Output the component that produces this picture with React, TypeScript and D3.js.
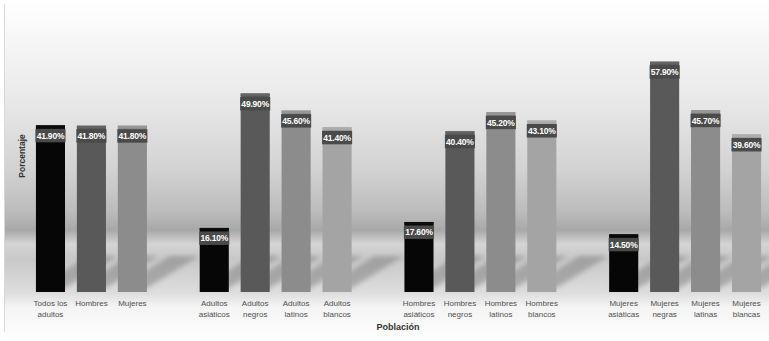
import React from "react";
import * as d3 from "d3";

const slots = [
  "todos", "hombres", "mujeres", "gap1",
  "adAsi", "adNeg", "adLat", "adBla", "gap2",
  "hoAsi", "hoNeg", "hoLat", "hoBla", "gap3",
  "muAsi", "muNeg", "muLat", "muBla",
];
const categories = [
  "todos", "hombres", "mujeres",
  "adAsi", "adNeg", "adLat", "adBla",
  "hoAsi", "hoNeg", "hoLat", "hoBla",
  "muAsi", "muNeg", "muLat", "muBla",
];
const labelLines: string[][] = [
  ["Todos los", "adultos"], ["Hombres"], ["Mujeres"],
  ["Adultos", "asiáticos"], ["Adultos", "negros"], ["Adultos", "latinos"], ["Adultos", "blancos"],
  ["Hombres", "asiáticos"], ["Hombres", "negros"], ["Hombres", "latinos"], ["Hombres", "blancos"],
  ["Mujeres", "asiáticas"], ["Mujeres", "negras"], ["Mujeres", "latinas"], ["Mujeres", "blancas"],
];
const values = [41.9, 41.8, 41.8, 16.1, 49.9, 45.6, 41.4, 17.6, 40.4, 45.2, 43.1, 14.5, 57.9, 45.7, 39.6];
const shadeIndex = [0, 1, 2, 0, 1, 2, 3, 0, 1, 2, 3, 0, 1, 2, 3];
const barColors = ["#060606", "#595959", "#8c8c8c", "#a4a4a4"];
const capColors = ["#0c0c0c", "#646464", "#979797", "#adadad"];

const W = 769;
const H = 341;
const BASE = 292;

export default function App() {
  const x = d3.scaleBand<string>().domain(slots).range([30, 767]).paddingInner(0.29).paddingOuter(0.145);
  const y = d3.scaleLinear().domain([0, 73.4]).range([BASE, 0]);
  const bw = x.bandwidth();
  const dx = 52;
  const dy = 32;
  const font = "'Liberation Sans', Arial, sans-serif";

  return (
    <svg width={W} height={H} style={{ position: "absolute", left: 0, top: 0, display: "block" }}>
      <defs>
        <linearGradient id="bg" x1="0" y1="0" x2="0" y2="1">
          <stop offset="0" stopColor="#ffffff" />
          <stop offset="0.06" stopColor="#fbfbfb" />
          <stop offset="0.3" stopColor="#e8e8e8" />
          <stop offset="0.5" stopColor="#d2d2d2" />
          <stop offset="0.62" stopColor="#bcbcbc" />
          <stop offset="0.675" stopColor="#a8a8a8" />
          <stop offset="0.715" stopColor="#d4d4d4" />
          <stop offset="0.76" stopColor="#c8c8c8" />
          <stop offset="0.86" stopColor="#dedede" />
          <stop offset="0.9" stopColor="#f4f4f4" />
          <stop offset="1" stopColor="#ffffff" />
        </linearGradient>
        <filter id="blur" x="-30%" y="-30%" width="160%" height="160%">
          <feGaussianBlur stdDeviation="2.5" />
        </filter>
      </defs>
      <rect x={0} y={0} width={W} height={H} fill="#ffffff" />
      <rect x={5} y={0} width={W - 5} height={H} fill="url(#bg)" />
      <line x1={4.5} y1={4} x2={4.5} y2={332} stroke="#d8d8d8" strokeWidth={1} />

      <g filter="url(#blur)">
        {categories.map((c) => {
          const x0 = x(c)!;
          const x1 = x0 + bw;
          const pts = [
            [x0, BASE - 4],
            [x1, BASE - 4],
            [x1 + dx, BASE - 4 - dy],
            [x0 + dx, BASE - 4 - dy],
          ];
          return (
            <polygon key={c} points={pts.map((p) => p.join(",")).join(" ")} fill="#7a7a7a" opacity={0.5} />
          );
        })}
      </g>

      {categories.map((c, i) => {
        const x0 = x(c)!;
        const top = y(values[i]);
        return (
          <g key={c}>
            <rect x={x0} y={top} width={bw} height={BASE - top} fill={barColors[shadeIndex[i]]} />
            <rect x={x0} y={top} width={bw} height={2.5} fill={capColors[shadeIndex[i]]} />
            <rect x={x0 - 0.5} y={top + 3.5} width={bw + 1} height={13.5} fill="#4a4a4a" />
            <text
              x={x0 + bw / 2}
              y={top + 13.5}
              textAnchor="middle"
              fontFamily={font}
              fontSize={8.5}
              fontWeight="bold"
              fill="#ffffff"
              letterSpacing={-0.2}
            >
              {values[i].toFixed(2) + "%"}
            </text>
            {labelLines[i].map((ln, k) => (
              <text
                key={k}
                x={x0 + bw / 2}
                y={306 + k * 10.5}
                textAnchor="middle"
                fontFamily={font}
                fontSize={8}
                fill="#505050"
              >
                {ln}
              </text>
            ))}
          </g>
        );
      })}

      <text x={398} y={330} textAnchor="middle" fontFamily={font} fontSize={9} fontWeight="bold" fill="#333333">
        Población
      </text>
      <text
        transform="translate(25,156) rotate(-90)"
        textAnchor="middle"
        fontFamily={font}
        fontSize={8.5}
        fontWeight="bold"
        fill="#333333"
      >
        Porcentaje
      </text>
    </svg>
  );
}
